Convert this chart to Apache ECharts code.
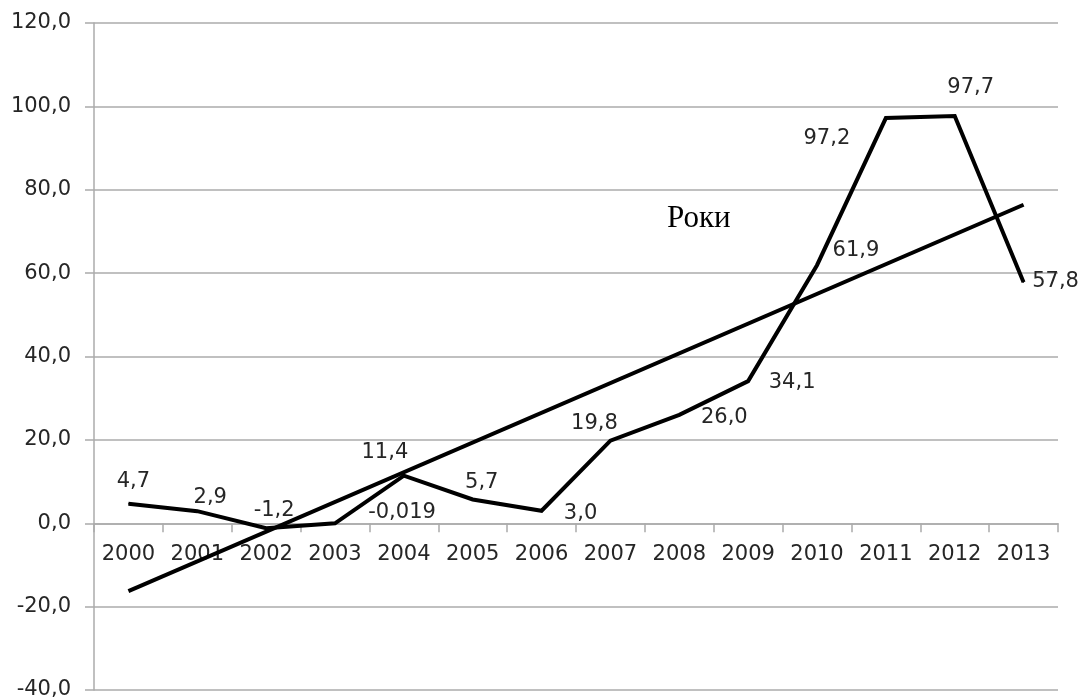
<!DOCTYPE html>
<html>
<head>
<meta charset="utf-8">
<script src="https://cdn.jsdelivr.net/npm/echarts@6/dist/echarts.min.js"></script>
<style>
  html, body { margin: 0; padding: 0; background: #fff; }
  #chart { width: 1082px; height: 699px; }
</style>
</head>
<body>
<div id="chart"></div>
<script>
// Years on the category axis
const years = ['2000', '2001', '2002', '2003', '2004', '2005', '2006',
               '2007', '2008', '2009', '2010', '2011', '2012', '2013'];

// Yearly values
const values = [4.7, 2.9, -1.2, -0.019, 11.4, 5.7, 3.0,
                19.8, 26.0, 34.1, 61.9, 97.2, 97.7, 57.8];

// Linear trend: start (2000) and end (2013) values
const trendStart = -16.3;
const trendEnd = 76.4;

// Value axis ticks
const yMin = -40, yMax = 120, yStep = 20;

// Where each value label sits relative to its point [dx, dy] in px
const labelOffsets = [
  [5, -22], [13, -14], [8, -18], [67, -11], [-19, -23], [9, -17], [39, 3],
  [-16, -17], [45, 3], [44, 1], [39, -15], [-59, 20], [16, -28], [32, -1]
];

const trendData = years.map((_, i) =>
  i === 0 ? trendStart : (i === years.length - 1 ? trendEnd : null));

function fmt(v) {
  const tenth = Math.abs(v * 10 - Math.round(v * 10)) < 1e-9;
  return (tenth ? v.toFixed(1) : String(v)).replace('.', ',');
}

const FONT = 'DejaVu Sans';
const TEXT = '#262626';
const GRID = '#ababab';

const W = 1082, H = 699;
const gridTop = 23, gridBottom = 9;
const plotH = H - gridTop - gridBottom;
// lift the category axis from the plot bottom up to the zero line
const zeroLift = plotH * (0 - yMin) / (yMax - yMin);

const chart = echarts.init(document.getElementById('chart'), null, { renderer: 'canvas' });

chart.setOption({
  animation: false,
  backgroundColor: '#ffffff',
  grid: {
    left: 94, right: 24, top: gridTop, bottom: gridBottom,
    containLabel: false, outerBoundsMode: 'none'
  },
  xAxis: {
    type: 'category',
    data: years,
    boundaryGap: true,
    offset: -zeroLift,
    axisLine: { onZero: false, lineStyle: { color: GRID, width: 1.5 } },
    axisTick: { show: true, length: 9, alignWithLabel: false, lineStyle: { color: GRID, width: 1.5 } },
    axisLabel: { color: TEXT, fontFamily: FONT, fontSize: 21, margin: 21, interval: 0 },
    splitLine: { show: false }
  },
  yAxis: {
    type: 'value',
    min: yMin, max: yMax, interval: yStep,
    axisLine: { show: true, lineStyle: { color: GRID, width: 1.5 } },
    axisTick: { show: true, length: 9, lineStyle: { color: GRID, width: 1.5 } },
    axisLabel: {
      color: TEXT, fontFamily: FONT, fontSize: 21, margin: 23,
      formatter: v => v.toFixed(1).replace('.', ',')
    },
    splitLine: { show: true, lineStyle: { color: GRID, width: 1.5 } }
  },
  graphic: [{
    type: 'text',
    left: 667, top: 203,
    style: { text: 'Роки', fontFamily: 'Liberation Serif', fontSize: 31, fill: '#000' }
  }],
  series: [
    {
      name: 'trend',
      type: 'line',
      data: trendData,
      connectNulls: true,
      symbol: 'none',
      lineStyle: { color: '#000', width: 4 },
      z: 3
    },
    {
      name: 'values',
      type: 'line',
      data: values.map((v, i) => ({
        value: v,
        label: { offset: labelOffsets[i] }
      })),
      symbol: 'circle',
      symbolSize: 1,
      itemStyle: { color: '#000' },
      lineStyle: { color: '#000', width: 4, join: 'miter' },
      label: {
        show: true,
        position: 'inside',
        align: 'center',
        verticalAlign: 'middle',
        color: TEXT,
        fontFamily: FONT,
        fontSize: 21,
        formatter: p => fmt(p.value)
      },
      z: 4
    }
  ]
});
</script>
</body>
</html>
